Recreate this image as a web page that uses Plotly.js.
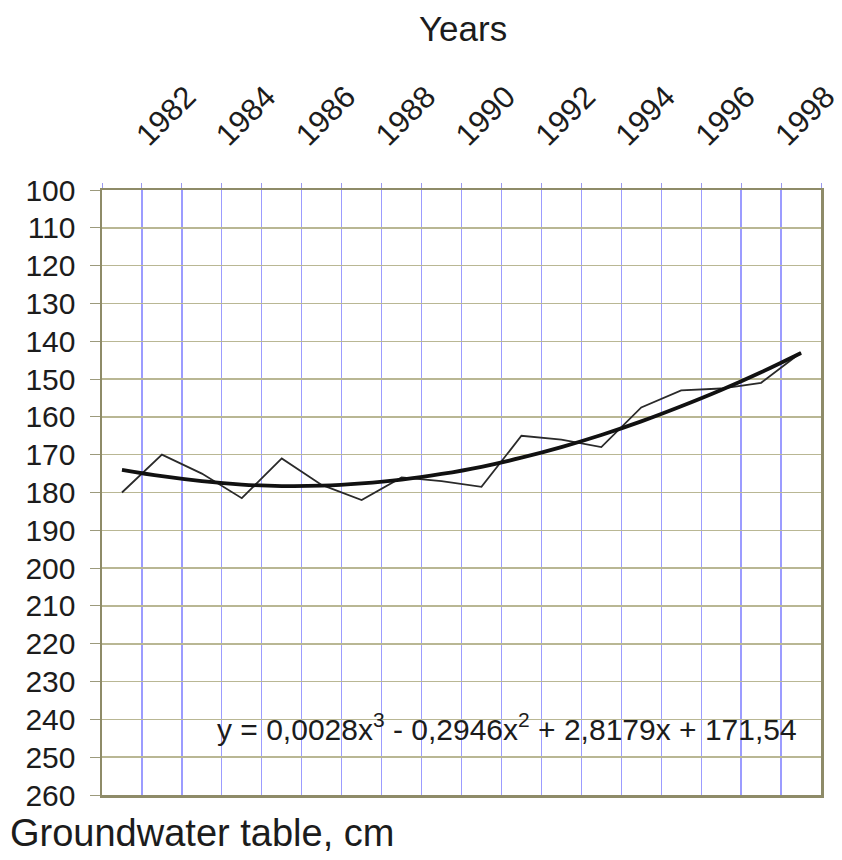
<!DOCTYPE html>
<html>
<head>
<meta charset="utf-8">
<script src="https://cdn.plot.ly/plotly-3.0.1.min.js"></script>
<style>html,body{margin:0;padding:0;background:#fff;}#chart{width:842px;height:860px;}</style>
</head>
<body>
<div id="chart"></div>
<script>
// Years (categories)
var years = [1981,1982,1983,1984,1985,1986,1987,1988,1989,1990,1991,1992,1993,1994,1995,1996,1997,1998];
// Groundwater table, cm (measured)
var groundwater = [180,170,175,181.5,171,178,182,176,177,178.5,165,166,168,157.5,153,152.5,151,143];
// Polynomial trend line
var trend = [174,175.7,177,177.9,178.3,178.2,177.6,176.6,175.1,173.2,170.8,168,164.8,161.2,157.2,152.9,148.2,143.1];
// Labelled years on the top axis
var yearLabels = [1982,1984,1986,1988,1990,1992,1994,1996,1998];
// Y tick values
var depthTicks = [100,110,120,130,140,150,160,170,180,190,200,210,220,230,240,250,260];

var equation = 'y = 0,0028x<sup>3</sup> - 0,2946x<sup>2</sup> + 2,8179x + 171,54';

// category boundaries (grid lines sit between the categories)
var boundaries = years.map(function(y){return y-0.5;});
boundaries.push(years[years.length-1]+0.5);
var boundaryText = boundaries.map(function(b){
  return yearLabels.indexOf(b+0.5) >= 0 ? String(b+0.5) : '';
});

var FONT = 'Liberation Sans, Arial, sans-serif';
var INK = '#1c1c1c';

var traces = [
  {x: years, y: groundwater, type: 'scatter', mode: 'lines',
   line: {color: '#2a2a2a', width: 1.8}, hoverinfo: 'x+y', showlegend: false},
  {x: years, y: trend, type: 'scatter', mode: 'lines',
   line: {color: '#111', width: 3.8, shape: 'spline', smoothing: 1}, hoverinfo: 'x+y', showlegend: false}
];

var layout = {
  width: 842, height: 860,
  margin: {l: 102, r: 21, t: 190, b: 65},
  paper_bgcolor: '#fff', plot_bgcolor: '#fff',
  showlegend: false,
  title: {text: 'Years', font: {family: FONT, size: 35, color: INK},
          xref: 'container', x: 0.55, xanchor: 'center',
          yref: 'container', y: 0.967, yanchor: 'middle'},
  xaxis: {
    range: [boundaries[0], boundaries[boundaries.length-1]],
    side: 'top',
    tickmode: 'array', tickvals: boundaries, ticktext: boundaryText,
    tickangle: -45,
    tickfont: {family: FONT, size: 31, color: INK},
    ticks: 'outside', ticklen: 5, tickcolor: '#9a9aee', tickwidth: 1,
    showgrid: true, gridcolor: '#9c9cff', gridwidth: 1.3, zeroline: false,
    ticklabelstandoff: 18, ticklabelshift: -4,
    showline: true, mirror: true, linecolor: '#8e8b68', linewidth: 2.5
  },
  yaxis: {
    range: [260, 100], autorange: false,
    tickmode: 'array', tickvals: depthTicks,
    tickfont: {family: FONT, size: 30, color: INK},
    ticks: 'outside', ticklen: 10, tickcolor: '#9c9a7c', tickwidth: 1,
    ticklabelstandoff: 8,
    showgrid: true, gridcolor: '#b9b794', gridwidth: 1.5, zeroline: false,
    showline: true, mirror: true, linecolor: '#8e8b68', linewidth: 2.5
  },
  annotations: [
    {text: equation, xref: 'x', yref: 'y', x: 1997.95, y: 242,
     xanchor: 'right', yanchor: 'middle', showarrow: false,
     font: {family: FONT, size: 30, color: INK}},
    {text: 'Groundwater table, cm', xref: 'paper', yref: 'paper',
     x: -0.131, y: -0.063, xanchor: 'left', yanchor: 'middle', showarrow: false,
     font: {family: FONT, size: 38, color: INK}}
  ]
};

Plotly.newPlot('chart', traces, layout, {displayModeBar: false, staticPlot: true});
</script>
</body>
</html>
